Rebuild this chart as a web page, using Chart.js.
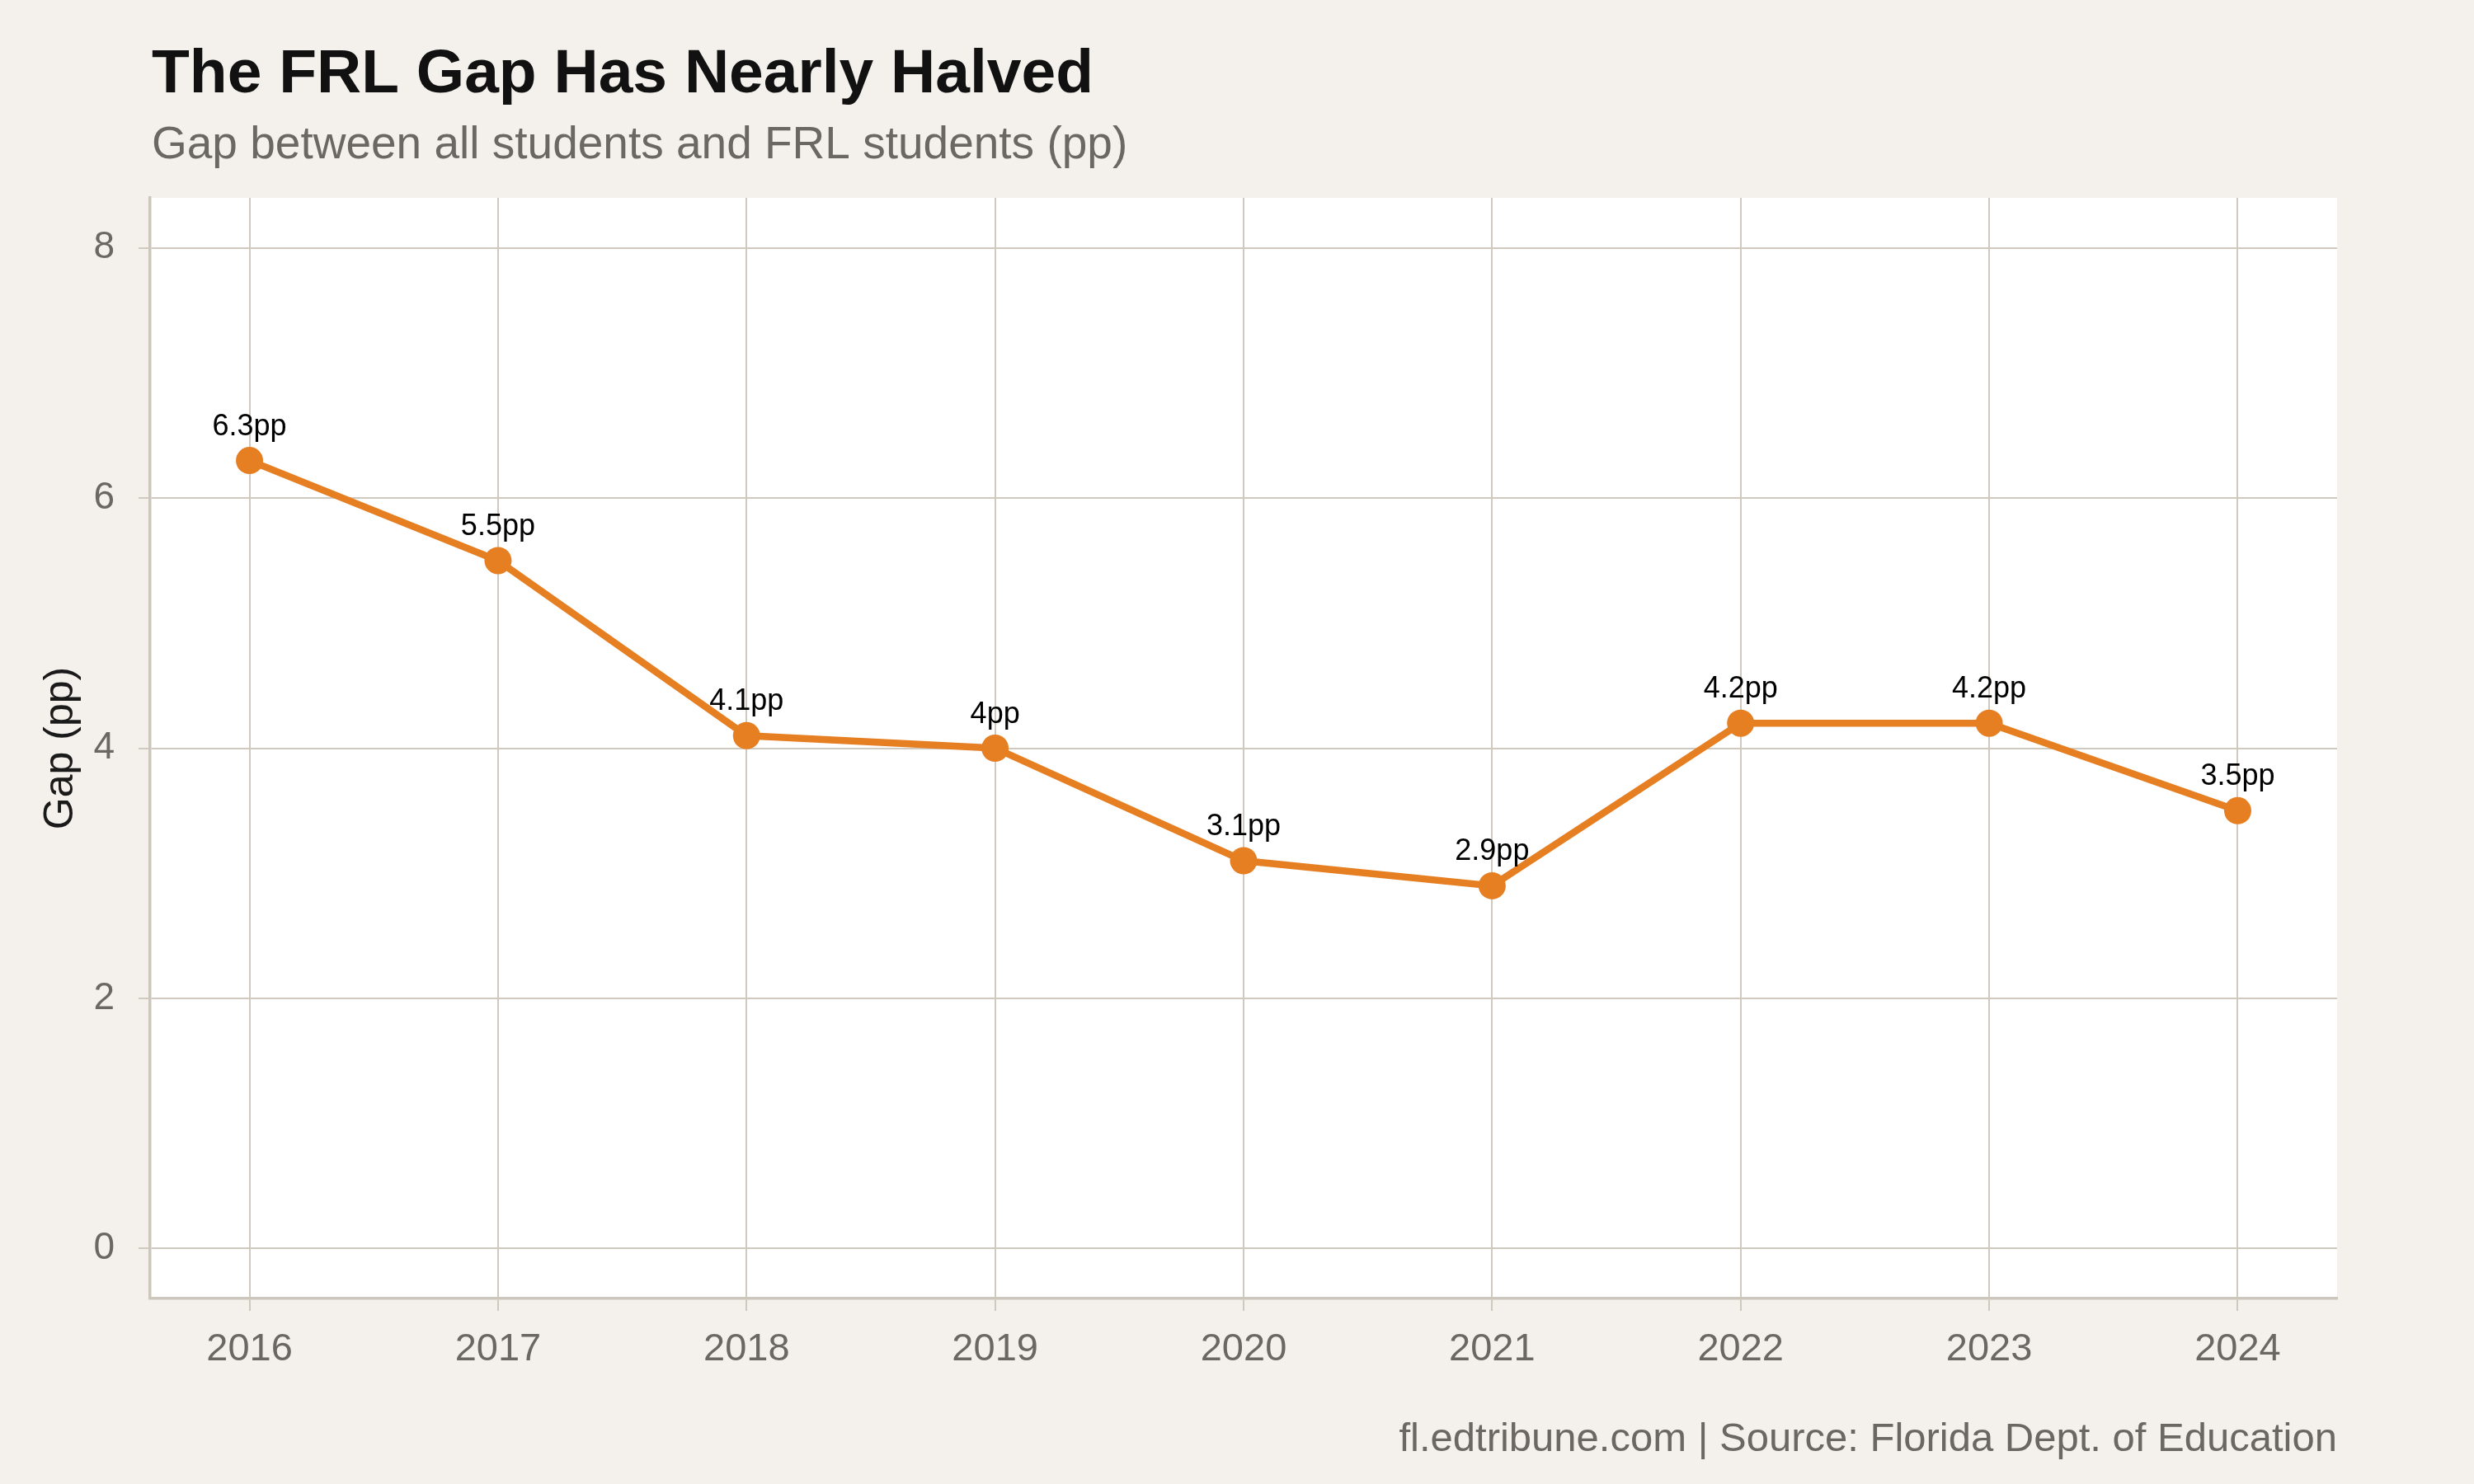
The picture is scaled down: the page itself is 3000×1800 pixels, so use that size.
<!DOCTYPE html>
<html>
<head>
<meta charset="utf-8">
<script src="https://cdn.jsdelivr.net/npm/chart.js@4.4.1/dist/chart.umd.min.js"></script>
<style>
    body { margin: 0; background: #f4f1ec; }
    #wrap { width: 3000px; height: 1800px; position: relative; }
</style>
</head>
<body>
<div id="wrap"><canvas id="gap-chart"></canvas></div>
<script>
// Chart data
const years = [2016, 2017, 2018, 2019, 2020, 2021, 2022, 2023, 2024];
const gapValues = [6.3, 5.5, 4.1, 4.0, 3.1, 2.9, 4.2, 4.2, 3.5];
const yTicks = [0, 2, 4, 6, 8];

const titleText = "The FRL Gap Has Nearly Halved";
const subtitleText = "Gap between all students and FRL students (pp)";
const captionText = "fl.edtribune.com | Source: Florida Dept. of Education";

const FONT = "'Liberation Sans', Arial, Helvetica, sans-serif";
const gridColor = "#d0c9c0";
const mutedText = "#6b6863";
const orange = "#e67e22";

// Background, white panel, titles and caption
const decorPlugin = {
    id: "decor",
    beforeDraw(chart) {
        const ctx = chart.ctx;
        const a = chart.chartArea;
        ctx.save();
        ctx.fillStyle = "#f4f1ec";
        ctx.fillRect(0, 0, chart.width, chart.height);
        ctx.fillStyle = "#ffffff";
        ctx.fillRect(a.left, a.top, a.right - a.left, a.bottom - a.top);
        ctx.restore();
    },
    afterDraw(chart) {
        const ctx = chart.ctx;
        const a = chart.chartArea;
        ctx.save();
        ctx.textBaseline = "alphabetic";
        ctx.textAlign = "left";
        ctx.fillStyle = "#111111";
        ctx.font = "bold 75px " + FONT;
        ctx.fillText(titleText, 184, 112);
        ctx.fillStyle = mutedText;
        ctx.font = "55px " + FONT;
        ctx.fillText(subtitleText, 184, 192);
        ctx.textAlign = "right";
        ctx.font = "49px " + FONT;
        ctx.fillText(captionText, a.right, 1760);
        ctx.restore();
    }
};

// Value labels above the points
const labelPlugin = {
    id: "pointLabels",
    afterDatasetsDraw(chart) {
        const ctx = chart.ctx;
        const meta = chart.getDatasetMeta(0);
        ctx.save();
        ctx.fillStyle = "#000000";
        ctx.font = "36px " + FONT;
        ctx.textAlign = "center";
        ctx.textBaseline = "alphabetic";
        meta.data.forEach((pt, i) => {
            ctx.fillText(gapValues[i] + "pp", pt.x, pt.y - 31);
        });
        ctx.restore();
    }
};

const ctx = document.getElementById("gap-chart").getContext("2d");
new Chart(ctx, {
    type: "line",
    data: {
        datasets: [{
            label: "Gap",
            data: years.map((yr, i) => ({ x: yr, y: gapValues[i] })),
            borderColor: orange,
            backgroundColor: orange,
            borderWidth: 8.5,
            pointRadius: 16.5,
            pointHoverRadius: 16.5,
            pointBorderWidth: 0,
            tension: 0,
            fill: false
        }]
    },
    options: {
        responsive: true,
        maintainAspectRatio: false,
        animation: false,
        devicePixelRatio: 1,
        layout: { padding: { top: 240, right: 166, left: 0, bottom: 0 } },
        plugins: {
            legend: { display: false },
            tooltip: { enabled: false }
        },
        scales: {
            x: {
                type: "linear",
                min: 2015.6,
                max: 2024.4,
                afterBuildTicks: s => { s.ticks = years.map(v => ({ value: v })); },
                afterFit: s => { s.height = 225; },
                grid: { color: gridColor, lineWidth: 2, tickLength: 15, drawTicks: true },
                border: { display: true, color: "#cdc6bc", width: 3.5 },
                ticks: {
                    color: mutedText,
                    font: { family: FONT, size: 47 },
                    padding: 19,
                    callback: v => String(v),
                    maxRotation: 0
                }
            },
            y: {
                min: -0.4,
                max: 8.4,
                afterBuildTicks: s => { s.ticks = yTicks.map(v => ({ value: v })); },
                afterFit: s => { s.width = 182; },
                grid: { color: gridColor, lineWidth: 2, tickLength: 14, drawTicks: true },
                border: { display: true, color: "#cdc6bc", width: 3.5 },
                ticks: {
                    color: mutedText,
                    font: { family: FONT, size: 46 },
                    padding: 29
                },
                title: {
                    display: true,
                    text: "Gap (pp)",
                    color: "#1a1a1a",
                    font: { family: FONT, size: 50 },
                    padding: { top: 44, bottom: 0 }
                }
            }
        }
    },
    plugins: [decorPlugin, labelPlugin]
});
</script>
</body>
</html>
